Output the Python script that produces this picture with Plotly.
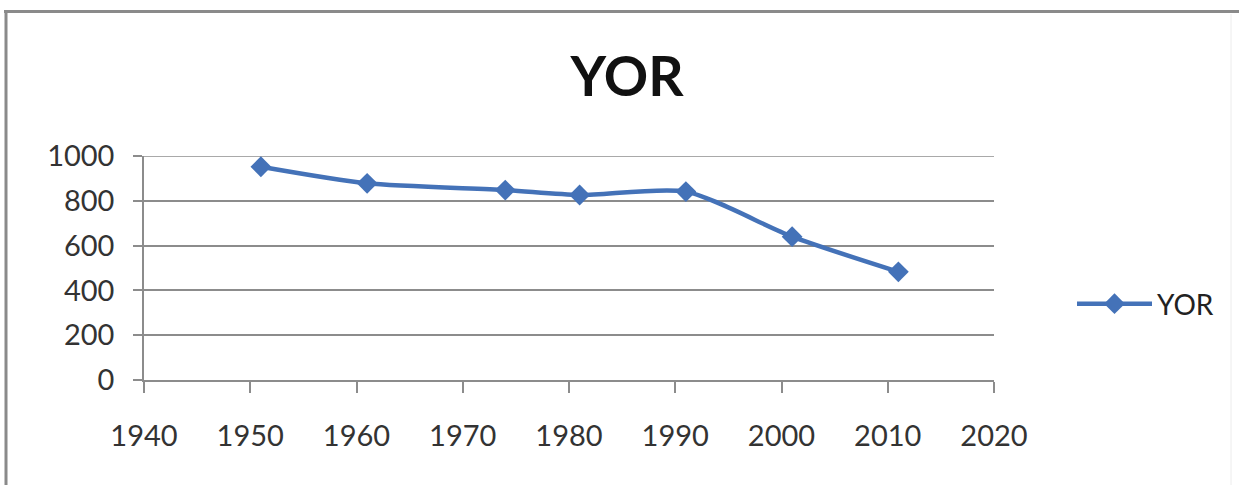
import plotly.graph_objects as go

# Census years and YOR values
years = [1951, 1961, 1974, 1981, 1991, 2001, 2011]
yor = [952, 878, 848, 826, 841, 640, 483]

x_ticks = [1940, 1950, 1960, 1970, 1980, 1990, 2000, 2010, 2020]
y_ticks = [0, 200, 400, 600, 800, 1000]

W, H = 1239, 485
ML, MR, MT, MB = 144, 245, 156, 105
PW, PH = W - ML - MR, H - MT - MB

BLUE = "#4472B8"
AXIS_GRAY = "#8c8c8c"
FONT = "Lato"


def px_x(p):
    return (p - ML) / PW


def px_y(p):
    return (H - MB - p) / PH


fig = go.Figure()
fig.add_trace(go.Scatter(
    x=years, y=yor, name="YOR", mode="lines+markers",
    line=dict(color=BLUE, width=4.5, shape="spline", smoothing=0.7),
    marker=dict(symbol="diamond", size=16, color=BLUE),
))

# chart frame (top and left edges) plus the top gridline at the range edge
frame = [
    dict(type="line", xref="paper", yref="paper",
         x0=px_x(4), x1=px_x(W), y0=px_y(11.5), y1=px_y(11.5),
         line=dict(color="#8a8a8a", width=3)),
    dict(type="line", xref="paper", yref="paper",
         x0=px_x(6), x1=px_x(6), y0=px_y(10), y1=px_y(H),
         line=dict(color="#8a8a8a", width=3)),
    dict(type="line", xref="paper", yref="paper",
         x0=px_x(1231), x1=px_x(1231), y0=px_y(14), y1=px_y(H),
         line=dict(color="#ececec", width=1)),
    dict(type="line", xref="paper", yref="y", layer="below",
         x0=px_x(135), x1=1, y0=1000, y1=1000,
         line=dict(color=AXIS_GRAY, width=1.5)),
]

fig.update_layout(
    width=W, height=H,
    margin=dict(l=ML, r=MR, t=MT, b=MB, autoexpand=False),
    paper_bgcolor="white", plot_bgcolor="white",
    font=dict(family=FONT, size=29, color="#333333"),
    title=dict(text="<b>YOR</b>", x=627 / W, xanchor="center",
               xref="container", yref="container", y=1 - 77 / H, yanchor="middle",
               font=dict(family=FONT, size=55, color="#111111")),
    showlegend=True,
    legend=dict(x=px_x(1072), y=px_y(304), xanchor="left", yanchor="middle",
                xref="paper", yref="paper", itemwidth=75,
                font=dict(family=FONT, size=28, color="#222222"),
                bgcolor="rgba(0,0,0,0)"),
    shapes=frame,
)

fig.update_xaxes(
    range=[1940, 2020], tickvals=x_ticks, ticktext=[str(t) for t in x_ticks],
    showgrid=False, zeroline=False,
    showline=True, linecolor=AXIS_GRAY, linewidth=1.5,
    ticks="outside", ticklen=11, tickcolor=AXIS_GRAY, tickwidth=1.5,
    ticklabelstandoff=18,
)
fig.update_yaxes(
    range=[0, 1000], tickvals=y_ticks, ticktext=[str(t) for t in y_ticks],
    showgrid=True, gridcolor=AXIS_GRAY, gridwidth=1.5, zeroline=False,
    showline=True, linecolor=AXIS_GRAY, linewidth=1.5,
    ticks="outside", ticklen=9, tickcolor=AXIS_GRAY, tickwidth=1.5,
    ticklabelstandoff=13,
)

fig.write_html("out.html")
